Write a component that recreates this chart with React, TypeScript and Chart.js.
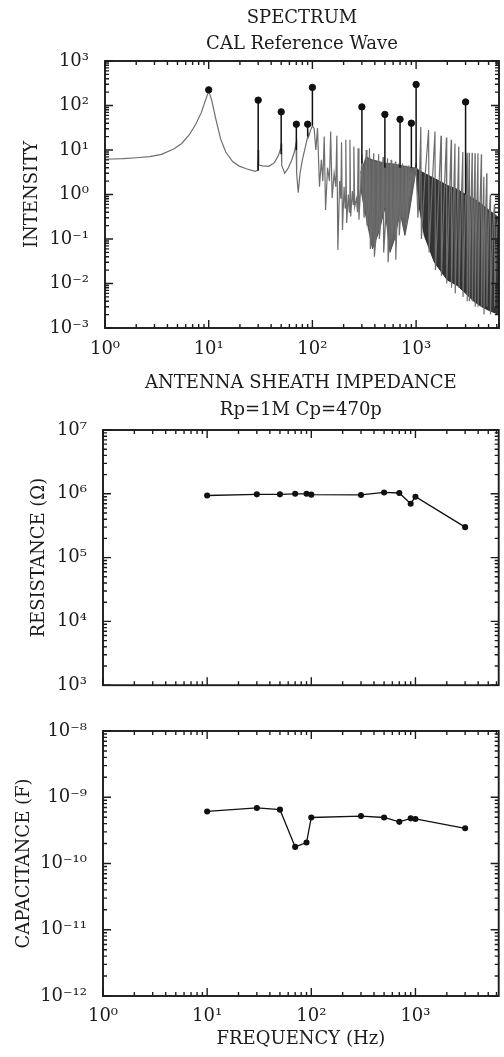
import React, { useEffect, useRef } from 'react';
import { Chart, registerables } from 'chart.js';

Chart.register(...registerables);

const FONT = "'DejaVu Serif', serif";
const INK = '#1c1c1c';

// ---------- tick values & labels ----------
const freqTickValues = [1, 10, 100, 1000];
const freqTickLabels = ['10⁰', '10¹', '10²', '10³'];
const intensityTickValues = [1e-3, 1e-2, 1e-1, 1, 10, 100, 1000];
const intensityTickLabels = ['10⁻³', '10⁻²', '10⁻¹', '10⁰', '10¹', '10²', '10³'];
const resistanceTickValues = [1e3, 1e4, 1e5, 1e6, 1e7];
const resistanceTickLabels = ['10³', '10⁴', '10⁵', '10⁶', '10⁷'];
const capTickValues = [1e-12, 1e-11, 1e-10, 1e-9, 1e-8];
const capTickLabels = ['10⁻¹²', '10⁻¹¹', '10⁻¹⁰', '10⁻⁹', '10⁻⁸'];

// ---------- spectrum (frequency Hz, intensity) ----------
const spectrum: [number, number][] = [
  [1, 6.2], [1.5, 6.4], [2, 6.7], [2.7, 7.1], [3.5, 8.0], [4.6, 10.5], [5.5, 14], [6.5, 22], [7.5, 38], [8.5, 70],
  [9.3, 130], [10, 210], [10.7, 130], [11.7, 50], [13, 18], [14.6, 9], [17, 5.5], [19.5, 4.4], [23, 3.8], [28, 3.3],
  [29.6, 3.5], [30, 10], [30.4, 4.6], [33, 4.4], [38, 4.3], [43, 5.2], [47, 7.5], [49.5, 11], [50, 14], [50.6, 4.5],
  [54, 3.0], [58, 3.8], [63, 5.8], [67, 9], [69.5, 14], [70, 18], [71, 3], [73, 1.1], [76, 3], [80, 6],
  [85, 11], [89, 18], [90, 25], [92, 20], [96, 28], [100, 35], [104, 30], [108, 10], [112, 31], [117, 1.5],
  [122, 6], [126, 2], [130, 20], [134, 0.45], [140, 4], [146, 2], [150, 26], [155, 0.83], [162, 3], [168, 1.5],
  [172, 21], [176, 0.057], [183, 2], [188, 0.8], [191, 15], [195, 0.16], [202, 1.5], [207, 0.5], [210, 17], [214, 0.23],
  [222, 1], [227, 0.4], [230, 17], [234, 0.32], [243, 1.2], [248, 0.6], [251, 12], [256, 0.53], [266, 0.8], [272, 0.4],
  [276, 11], [281, 0.27], [292, 1.5], [300, 8], [306, 1.5], [315, 0.3], [324, 1], [330, 10], [336, 0.2], [348, 0.5],
  [355, 11], [362, 0.06], [378, 0.3], [390, 8.5], [396, 0.04], [420, 0.2], [435, 8], [442, 0.1], [465, 0.4], [480, 7],
  [487, 0.05], [510, 0.3], [530, 6.5], [537, 0.03], [560, 0.2], [575, 6], [582, 0.1], [610, 0.3], [630, 5.5], [637, 0.034],
  [660, 0.5], [680, 5], [688, 0.12], [720, 0.6], [740, 5], [748, 0.3], [785, 0.8], [800, 4.5], [808, 0.2], [835, 0.9],
  [850, 4.5], [858, 0.9], [900, 3], [950, 2], [1000, 5], [1040, 0.3], [1070, 1], [1110, 33], [1125, 0.1], [1210, 2],
  [1320, 28], [1335, 0.05], [1420, 1.2], [1520, 26], [1535, 0.02], [1640, 0.8], [1740, 21], [1755, 0.015], [1850, 0.6], [1960, 19],
  [1975, 0.01], [2080, 0.5], [2180, 17], [2195, 0.008], [2280, 0.4], [2370, 14], [2385, 0.006], [2480, 0.3], [2580, 12], [2595, 0.008],
  [2700, 0.3], [2820, 9], [2835, 0.005], [2960, 0.3], [3100, 8.7], [3115, 0.004], [3180, 0.3], [3250, 8.7], [3265, 0.004], [3360, 0.3],
  [3470, 8.7], [3485, 0.004], [3590, 0.3], [3700, 8.5], [3715, 0.003], [3830, 0.3], [3950, 8.5], [3965, 0.003], [4100, 0.3], [4260, 8],
  [4275, 0.003], [4400, 0.2], [4500, 2.5], [4520, 0.002], [4650, 0.2], [4800, 3], [4820, 0.003], [5000, 0.2], [5200, 1], [5220, 0.002],
  [5500, 0.2], [5700, 0.6], [5720, 0.003], [6000, 0.2], [6300, 0.3],
];

// dense band of the spectrum, 300 Hz – 1 kHz (mottled grey): [frequency, upper, lower]
const denseBandMid: [number, number, number][] = [
  [290, 3, 1.5], [330, 7, 0.3], [380, 6, 0.06], [440, 5.5, 0.15], [500, 5, 0.5], [560, 5, 0.05],
  [620, 4.8, 0.1], [700, 4.5, 0.4], [780, 4.3, 0.12], [860, 4.1, 0.4], [940, 4, 1.5], [1000, 4, 3.5],
];
// dense band above 1 kHz (dark): [frequency, upper, lower]
const denseBandHigh: [number, number, number][] = [
  [1000, 4, 3.5], [1060, 3.5, 0.6], [1200, 3, 0.12], [1500, 2.3, 0.03], [2000, 1.6, 0.012], [2500, 1.3, 0.009],
  [3000, 1.0, 0.006], [3600, 0.8, 0.004], [4300, 0.6, 0.003], [5000, 0.45, 0.0025], [6300, 0.3, 0.002],
];

// marked lines
const peakFreqs = [10, 30, 50, 70, 90, 100, 300, 500, 700, 900, 1000, 3000];
const peakValues = [225, 132, 72, 38, 38, 255, 93, 63, 49, 40, 296, 120];
const peakBases = [200, 3.4, 8, 10, 20, 35, 5, 4, 4, 4, 4, 1];

// impedance
const resistance = [0.94e6, 0.98e6, 0.98e6, 1.0e6, 1.0e6, 0.97e6, 0.96e6, 1.05e6, 1.03e6, 0.70e6, 0.90e6, 0.30e6];
const capacitance = [6.1e-10, 6.9e-10, 6.5e-10, 1.78e-10, 2.07e-10, 4.95e-10, 5.2e-10, 4.95e-10, 4.25e-10, 4.8e-10, 4.7e-10, 3.4e-10];

// ---------- helpers ----------
const logMarks = (min: number, max: number) => {
  const out: { v: number; major: boolean }[] = [];
  for (let e = Math.floor(Math.log10(min)); e <= Math.ceil(Math.log10(max)); e++) {
    for (let m = 1; m <= 9; m++) {
      const v = m * Math.pow(10, e);
      if (v >= min * 0.999 && v <= max * 1.001) out.push({ v, major: m === 1 });
    }
  }
  return out;
};

const framePlugin = {
  id: 'frameTicks',
  afterDraw(chart: any) {
    const { ctx, chartArea: a, scales } = chart;
    const xs = scales.x;
    const ys = scales.y;
    ctx.save();
    ctx.strokeStyle = INK;
    ctx.lineWidth = 1.4;
    ctx.beginPath();
    for (const t of logMarks(xs.min, xs.max)) {
      const p = xs.getPixelForValue(t.v);
      const len = t.major ? 8 : 4;
      ctx.moveTo(p, a.bottom);
      ctx.lineTo(p, a.bottom - len);
      ctx.moveTo(p, a.top);
      ctx.lineTo(p, a.top + len);
    }
    for (const t of logMarks(ys.min, ys.max)) {
      const p = ys.getPixelForValue(t.v);
      const len = t.major ? 8 : 4;
      ctx.moveTo(a.left, p);
      ctx.lineTo(a.left + len, p);
      ctx.moveTo(a.right, p);
      ctx.lineTo(a.right - len, p);
    }
    ctx.stroke();
    ctx.lineWidth = 1.9;
    ctx.strokeRect(a.left, a.top, a.right - a.left, a.bottom - a.top);
    ctx.restore();
  },
};

const fixTicks = (values: number[]) => (scale: any) => {
  scale.ticks = values.map((v) => ({ value: v }));
};

const font = (size: number) => ({ family: FONT, size, weight: 'normal' as const, lineHeight: 1.2 });

interface PanelOpts {
  left: number;
  right: number;
  padTop: number;
  title?: string;
  titlePad?: [number, number];
  subtitle?: string;
  subtitlePad?: [number, number];
  showXLabels: boolean;
  xHeight: number;
  xLabelPad: number;
  xTitle?: string;
  yMin: number;
  yMax: number;
  yTicks: number[];
  yLabels: string[];
  yTitle: string;
  yTitlePad: number;
}

function panelOptions(p: PanelOpts): any {
  return {
    responsive: false,
    animation: false,
    devicePixelRatio: 1,
    layout: { padding: { left: 0, right: 504 - p.right, top: p.padTop, bottom: 0 } },
    plugins: {
      legend: { display: false },
      tooltip: { enabled: false },
      title: p.title
        ? {
            display: true,
            text: p.title,
            fullSize: false,
            color: INK,
            font: font(18),
            padding: { top: p.titlePad![0], bottom: p.titlePad![1] },
          }
        : { display: false },
      subtitle: p.subtitle
        ? {
            display: true,
            text: p.subtitle,
            fullSize: false,
            color: INK,
            font: font(18),
            padding: { top: p.subtitlePad![0], bottom: p.subtitlePad![1] },
          }
        : { display: false },
    },
    scales: {
      x: {
        type: 'logarithmic',
        min: 1,
        max: 6300,
        grid: { display: false, drawTicks: false },
        border: { display: false },
        afterBuildTicks: fixTicks(freqTickValues),
        afterFit: (s: any) => {
          s.height = p.xHeight;
        },
        ticks: {
          display: p.showXLabels,
          autoSkip: false,
          maxRotation: 0,
          padding: p.xLabelPad,
          color: INK,
          font: font(18),
          callback: (_v: any, i: number) => freqTickLabels[i],
        },
        title: p.xTitle
          ? { display: true, text: p.xTitle, color: INK, font: font(18), padding: { top: 0, bottom: 7 } }
          : { display: false },
      },
      y: {
        type: 'logarithmic',
        min: p.yMin,
        max: p.yMax,
        grid: { display: false, drawTicks: false },
        border: { display: false },
        afterBuildTicks: fixTicks(p.yTicks),
        afterFit: (s: any) => {
          s.width = p.left;
        },
        ticks: {
          autoSkip: false,
          padding: 16,
          color: INK,
          font: font(18),
          callback: (_v: any, i: number) => p.yLabels[i],
        },
        title: { display: true, text: p.yTitle, color: INK, font: font(18), padding: { top: p.yTitlePad, bottom: 0 } },
      },
    },
  };
}

function bandDatasets(band: [number, number, number][], color: string, order: number) {
  return [
    {
      label: 'band upper',
      data: band.map(([x, u]) => ({ x, y: u })),
      borderColor: color,
      borderWidth: 1,
      backgroundColor: color,
      pointRadius: 0,
      fill: '+1',
      order,
    },
    {
      label: 'band lower',
      data: band.map(([x, , l]) => ({ x, y: l })),
      borderColor: color,
      borderWidth: 1,
      pointRadius: 0,
      fill: false,
      order: order + 1,
    },
  ];
}

function spectrumConfig(): any {
  const stems: any[] = [];
  peakFreqs.forEach((f, i) => {
    stems.push({ x: f, y: peakBases[i] }, { x: f, y: peakValues[i] }, { x: f, y: null });
  });
  return {
    type: 'line',
    data: {
      datasets: [
        {
          label: 'peaks',
          data: peakFreqs.map((f, i) => ({ x: f, y: peakValues[i] })),
          showLine: false,
          pointRadius: 3.2,
          pointBackgroundColor: '#111',
          pointBorderColor: '#111',
          order: 0,
        },
        {
          label: 'stems',
          data: stems,
          borderColor: '#111',
          borderWidth: 1.5,
          pointRadius: 0,
          spanGaps: false,
          order: 1,
        },
        {
          label: 'spectrum',
          data: spectrum.map(([x, y]) => ({ x, y })),
          borderColor: '#6e6e6e',
          borderWidth: 1.2,
          pointRadius: 0,
          tension: 0,
          order: 2,
        },
        ...bandDatasets(denseBandMid, 'rgba(60,60,60,0.8)', 3),
        ...bandDatasets(denseBandHigh, 'rgba(34,34,34,0.92)', 5),
      ],
    },
    options: panelOptions({
      left: 105,
      right: 502,
      padTop: 0,
      title: 'SPECTRUM',
      titlePad: [8, 0],
      subtitle: 'CAL Reference Wave',
      subtitlePad: [3.6, 6.2],
      showXLabels: true,
      xHeight: 34,
      xLabelPad: 11,
      yMin: 1e-3,
      yMax: 1e3,
      yTicks: intensityTickValues,
      yLabels: intensityTickLabels,
      yTitle: 'INTENSITY',
      yTitlePad: 22,
    }),
    plugins: [framePlugin],
  };
}

function impedanceDataset(values: number[]) {
  return {
    data: peakFreqs.map((f, i) => ({ x: f, y: values[i] })),
    borderColor: '#111',
    borderWidth: 1.3,
    pointRadius: 2.4,
    pointBackgroundColor: '#111',
    pointBorderColor: '#111',
    tension: 0,
  };
}

function resistanceConfig(): any {
  return {
    type: 'line',
    data: { datasets: [impedanceDataset(resistance)] },
    options: panelOptions({
      left: 103,
      right: 501,
      padTop: 0,
      title: 'ANTENNA SHEATH IMPEDANCE',
      titlePad: [11, 0],
      subtitle: 'Rp=1M Cp=470p',
      subtitlePad: [5.4, 8.4],
      showXLabels: false,
      xHeight: 17,
      xLabelPad: 8,
      yMin: 1e3,
      yMax: 1e7,
      yTicks: resistanceTickValues,
      yLabels: resistanceTickLabels,
      yTitle: 'RESISTANCE (Ω)',
      yTitlePad: 29,
    }),
    plugins: [framePlugin],
  };
}

function capacitanceConfig(): any {
  return {
    type: 'line',
    data: { datasets: [impedanceDataset(capacitance)] },
    options: panelOptions({
      left: 103,
      right: 501,
      padTop: 31,
      showXLabels: true,
      xHeight: 61,
      xLabelPad: 10,
      xTitle: 'FREQUENCY (Hz)',
      yMin: 1e-12,
      yMax: 1e-8,
      yTicks: capTickValues,
      yLabels: capTickLabels,
      yTitle: 'CAPACITANCE (F)',
      yTitlePad: 14,
    }),
    plugins: [framePlugin],
  };
}

function ChartCanvas({ top, height, config }: { top: number; height: number; config: () => any }) {
  const ref = useRef<HTMLCanvasElement | null>(null);
  useEffect(() => {
    const chart = new Chart(ref.current as HTMLCanvasElement, config());
    return () => chart.destroy();
  }, []);
  return (
    <canvas
      ref={ref}
      width={504}
      height={height}
      style={{ position: 'absolute', left: 0, top, width: 504, height, display: 'block' }}
    />
  );
}

export default function App() {
  return (
    <div
      style={{
        position: 'absolute',
        left: 0,
        top: 0,
        width: 504,
        height: 1057,
        background: '#ffffff',
        overflow: 'hidden',
      }}
    >
      <ChartCanvas top={0} height={362} config={spectrumConfig} />
      <ChartCanvas top={362} height={350} config={resistanceConfig} />
      <ChartCanvas top={700} height={357} config={capacitanceConfig} />
    </div>
  );
}
